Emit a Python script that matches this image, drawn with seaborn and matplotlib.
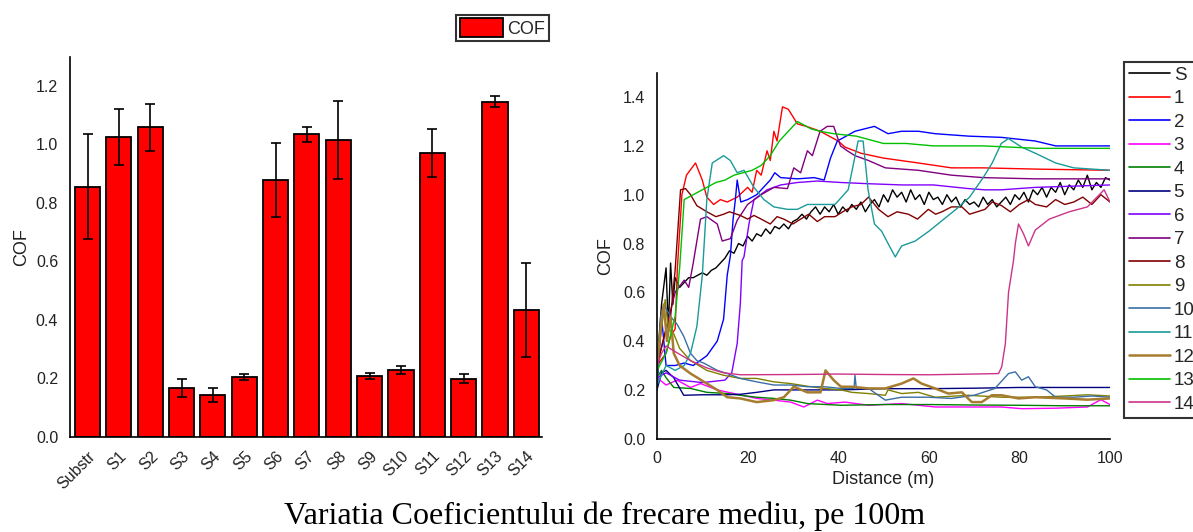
import numpy as np
import pandas as pd
import matplotlib
matplotlib.use("Agg")
import matplotlib.pyplot as plt
from matplotlib.lines import Line2D
from matplotlib.patches import Patch
from matplotlib.ticker import MultipleLocator
import seaborn as sns

# ---------------- data: bar chart ----------------
samples = ["Substr", "S1", "S2", "S3", "S4", "S5", "S6", "S7", "S8", "S9",
           "S10", "S11", "S12", "S13", "S14"]
cof_mean = [0.855, 1.025, 1.059, 0.167, 0.143, 0.205, 0.879, 1.034, 1.014,
            0.209, 0.228, 0.971, 0.199, 1.146, 0.433]
cof_err = [0.180, 0.096, 0.080, 0.030, 0.025, 0.010, 0.126, 0.026, 0.133,
           0.010, 0.015, 0.082, 0.015, 0.018, 0.162]

# ---------------- data: COF vs distance curves ----------------
dist_S = [0, 1, 2, 2.5, 3, 3.5, 4, 5, 6, 7, 8, 9, 10, 11, 12, 13, 14, 15, 16, 17, 18, 19, 20, 21, 22, 23, 24, 25, 26, 27, 28, 29, 30, 31, 32, 33, 34, 35, 36, 37, 38, 39, 40, 41, 42, 43, 44, 45, 46, 47, 48, 49, 50, 51, 52, 53, 54, 55, 56, 57, 58, 59, 60, 61, 62, 63, 64, 65, 66, 67, 68, 69, 70, 71, 72, 73, 74, 75, 76, 77, 78, 79, 80, 81, 82, 83, 84, 85, 86, 87, 88, 89, 90, 91, 92, 93, 94, 95, 96, 97, 98, 99, 100]
cof_S = [0.30, 0.55, 0.70, 0.45, 0.72, 0.55, 0.66, 0.62, 0.64, 0.66, 0.66, 0.67, 0.68, 0.67, 0.69, 0.70, 0.72, 0.74, 0.77, 0.76, 0.80, 0.79, 0.83, 0.81, 0.84, 0.83, 0.86, 0.84, 0.87, 0.86, 0.88, 0.86, 0.89, 0.90, 0.92, 0.90, 0.93, 0.95, 0.92, 0.95, 0.93, 0.96, 0.92, 0.95, 0.93, 0.96, 0.94, 0.97, 0.93, 0.96, 0.98, 0.95, 1.00, 0.97, 1.02, 0.99, 1.01, 0.97, 1.02, 0.98, 1.00, 0.96, 1.01, 0.98, 0.99, 0.96, 1.00, 0.97, 0.99, 0.95, 0.98, 0.96, 0.97, 0.95, 0.99, 0.96, 0.98, 0.95, 0.97, 0.99, 0.96, 1.00, 0.98, 1.01, 0.97, 1.02, 1.00, 1.03, 0.99, 1.03, 1.01, 1.05, 1.00, 1.04, 1.02, 1.06, 1.03, 1.08, 1.02, 1.05, 1.03, 1.07, 1.06]

dist_1 = [0, 2, 3, 4, 4.5, 5.5, 6.5, 8.5, 10, 11, 12.5, 14, 15.5, 17.7, 20, 21, 22, 23, 24.3, 25, 25.8, 26.5, 27.7, 29, 31, 33, 36, 40, 41.5, 45, 50, 57.7, 65, 72, 83.5, 100]
cof_1 = [0.30, 0.35, 0.42, 0.45, 0.70, 1.00, 1.08, 1.13, 1.06, 0.99, 0.96, 0.98, 0.97, 0.99, 1.03, 1.01, 1.10, 1.08, 1.18, 1.14, 1.26, 1.22, 1.36, 1.35, 1.29, 1.28, 1.26, 1.22, 1.195, 1.17, 1.15, 1.13, 1.11, 1.11, 1.105, 1.10]

dist_2 = [0, 1, 2, 4, 6, 8, 11, 13.3, 14.7, 15.5, 16.2, 16.8, 17.3, 17.7, 18.5, 20, 22, 25, 26, 27.3, 31, 34.7, 36.9, 38.3, 39.8, 43.7, 48, 51, 54, 57.7, 61.4, 68.8, 76, 83.5, 88, 100]
cof_2 = [0.20, 0.50, 0.30, 0.30, 0.31, 0.30, 0.34, 0.40, 0.49, 0.67, 0.75, 0.90, 0.98, 1.06, 0.97, 0.98, 1.00, 1.06, 1.09, 1.07, 1.065, 1.07, 1.06, 1.15, 1.22, 1.26, 1.28, 1.25, 1.26, 1.26, 1.25, 1.24, 1.235, 1.22, 1.20, 1.20]

dist_3 = [0, 2, 4.4, 7.4, 9.6, 13.3, 17, 22, 25.8, 29.5, 32.4, 35.4, 37.6, 41.5, 46.7, 54, 61.4, 68.8, 76, 80.5, 88, 95, 98, 100]
cof_3 = [0.25, 0.22, 0.24, 0.21, 0.226, 0.20, 0.185, 0.165, 0.158, 0.15, 0.13, 0.158, 0.144, 0.15, 0.137, 0.144, 0.13, 0.13, 0.13, 0.123, 0.125, 0.13, 0.16, 0.14]

dist_4 = [0, 1, 2, 3.7, 7.4, 11, 15.5, 18.4, 22, 25.8, 29.5, 33.2, 40.6, 50, 60, 70, 80, 90, 100]
cof_4 = [0.25, 0.28, 0.25, 0.21, 0.206, 0.19, 0.185, 0.178, 0.17, 0.165, 0.158, 0.144, 0.137, 0.14, 0.14, 0.138, 0.137, 0.135, 0.135]

dist_5 = [0, 1, 2, 3.7, 5.9, 10, 15, 18.4, 22, 25.8, 33, 40.6, 50, 60, 70, 80, 90, 100]
cof_5 = [0.20, 0.27, 0.28, 0.25, 0.178, 0.18, 0.18, 0.182, 0.19, 0.20, 0.20, 0.20, 0.205, 0.205, 0.207, 0.21, 0.21, 0.21]

dist_6 = [0, 2, 5, 10, 15, 16.5, 17.7, 18.4, 18.8, 19.2, 20.3, 21.4, 24.3, 27.3, 31, 35.4, 40.6, 46.7, 54, 61, 68.8, 72.4, 76, 83.5, 100]
cof_6 = [0.25, 0.27, 0.24, 0.23, 0.24, 0.27, 0.39, 0.555, 0.73, 0.745, 0.88, 0.98, 1.02, 1.04, 1.05, 1.056, 1.05, 1.045, 1.04, 1.04, 1.025, 1.02, 1.02, 1.03, 1.04]

dist_7 = [0, 2, 4, 6, 7, 8, 9.6, 11, 13.3, 14.4, 16.2, 17.7, 20, 23, 25.8, 28.8, 30.2, 31.7, 33.2, 34.3, 36, 37.6, 39, 40.5, 42, 43.7, 46.7, 50.4, 57.7, 65, 72, 83.5, 100]
cof_7 = [0.30, 0.45, 0.60, 0.65, 0.62, 0.72, 0.90, 0.91, 0.88, 0.81, 0.82, 0.895, 0.96, 1.00, 1.03, 1.025, 1.11, 1.09, 1.18, 1.16, 1.26, 1.28, 1.28, 1.20, 1.18, 1.16, 1.14, 1.11, 1.10, 1.08, 1.07, 1.065, 1.065]

dist_8 = [0, 2, 3, 4, 5.2, 6.3, 7.4, 8.8, 11, 13, 14.7, 16, 18.4, 20, 21.4, 23, 25, 26.5, 28, 30, 31.7, 33.5, 35.4, 37, 39.3, 41, 43, 45, 46.7, 48.9, 51, 53, 55.5, 57.5, 59.9, 61.5, 62.9, 65, 67.3, 69, 72.4, 74, 76, 78, 80, 82, 83.5, 86, 88, 90, 92, 94, 96, 98, 100]
cof_8 = [0.30, 0.45, 0.50, 0.69, 1.02, 1.025, 1.00, 0.955, 0.93, 0.91, 0.92, 0.93, 0.915, 0.90, 0.915, 0.90, 0.88, 0.91, 0.90, 0.88, 0.90, 0.92, 0.89, 0.91, 0.91, 0.93, 0.95, 0.96, 0.99, 0.94, 0.91, 0.93, 0.92, 0.90, 0.94, 0.92, 0.93, 0.95, 0.95, 0.92, 0.94, 0.97, 0.956, 0.93, 0.96, 0.98, 0.96, 0.95, 0.98, 0.96, 0.97, 0.99, 0.96, 1.00, 0.97]

dist_9 = [0, 1, 1.8, 2.5, 3.7, 5, 7.4, 11, 14.7, 18.4, 22, 25.8, 29.5, 33.2, 36.9, 40.6, 43, 46.7, 50.4, 51, 54, 57.7, 61.4, 68.8, 76, 83.5, 90, 95, 100]
cof_9 = [0.30, 0.45, 0.57, 0.45, 0.43, 0.37, 0.32, 0.28, 0.26, 0.247, 0.247, 0.233, 0.226, 0.215, 0.206, 0.20, 0.19, 0.185, 0.178, 0.20, 0.185, 0.19, 0.17, 0.178, 0.17, 0.17, 0.175, 0.18, 0.175]

dist_10 = [0, 0.8, 1.5, 3, 4.4, 5.9, 7.4, 8.8, 10.3, 13.3, 15.5, 18.4, 22, 25.8, 29.5, 33.2, 36.9, 40.6, 43.5, 43.7, 44, 46.7, 50.4, 54, 60, 65, 70, 74.6, 77.6, 79.1, 80.5, 82, 83.5, 86, 88, 92, 96, 100]
cof_10 = [0.20, 0.50, 0.55, 0.50, 0.47, 0.42, 0.35, 0.32, 0.31, 0.28, 0.267, 0.247, 0.233, 0.22, 0.22, 0.213, 0.213, 0.206, 0.206, 0.26, 0.206, 0.206, 0.158, 0.17, 0.17, 0.165, 0.178, 0.206, 0.267, 0.274, 0.24, 0.254, 0.213, 0.20, 0.17, 0.17, 0.175, 0.17]

dist_11 = [0, 2, 4, 6, 7.4, 8.8, 10, 11, 12.2, 14.7, 16.2, 17.7, 19.2, 21.4, 23.6, 25.8, 28.8, 31, 33.2, 36, 39.3, 42.2, 44.4, 45.5, 46.6, 48, 49.6, 51, 52.6, 54, 57, 60, 63, 66, 69, 72, 74, 76, 77.6, 80.5, 83.5, 88, 92, 100]
cof_11 = [0.22, 0.30, 0.28, 0.30, 0.35, 0.46, 0.67, 0.98, 1.13, 1.16, 1.14, 1.09, 1.10, 1.03, 0.98, 0.95, 0.94, 0.94, 0.96, 0.96, 0.96, 1.02, 1.22, 1.22, 1.02, 0.88, 0.85, 0.80, 0.745, 0.79, 0.81, 0.85, 0.895, 0.94, 0.99, 1.07, 1.13, 1.21, 1.23, 1.195, 1.17, 1.13, 1.11, 1.10]

dist_12 = [0, 0.8, 1.5, 2.2, 3, 3.7, 5, 7.4, 11, 13.3, 15.5, 18.4, 22, 25.8, 28, 30.2, 33.2, 36.1, 37.2, 39, 40.6, 43, 46.7, 50.4, 54, 56.6, 58.4, 61.4, 64.3, 67.3, 69.5, 71.7, 73.9, 76.1, 79.8, 83.5, 90, 95, 100]
cof_12 = [0.30, 0.45, 0.55, 0.40, 0.50, 0.35, 0.30, 0.267, 0.226, 0.20, 0.17, 0.165, 0.15, 0.158, 0.17, 0.213, 0.19, 0.19, 0.28, 0.24, 0.213, 0.213, 0.206, 0.206, 0.226, 0.247, 0.226, 0.206, 0.185, 0.19, 0.15, 0.15, 0.178, 0.178, 0.165, 0.17, 0.165, 0.16, 0.165]

dist_13 = [0, 2, 4, 5, 6, 7, 9, 11, 13, 15, 17, 19, 21, 23, 25, 27, 29, 31, 32, 34, 36, 39, 44, 50, 55, 61, 72, 84, 100]
cof_13 = [0.28, 0.35, 0.50, 0.70, 0.98, 0.99, 1.01, 1.03, 1.05, 1.06, 1.08, 1.09, 1.10, 1.12, 1.16, 1.22, 1.26, 1.30, 1.29, 1.27, 1.26, 1.25, 1.24, 1.21, 1.21, 1.20, 1.20, 1.19, 1.19]

dist_14 = [0, 1, 2, 3.7, 7.4, 11, 14.7, 18.4, 30, 40, 50, 60, 70, 75.4, 76.1, 76.9, 77.6, 78.7, 79.1, 79.8, 80.9, 82, 83.5, 86.6, 91, 95, 98.7, 100]
cof_14 = [0.30, 0.35, 0.38, 0.36, 0.32, 0.29, 0.27, 0.262, 0.263, 0.265, 0.263, 0.262, 0.265, 0.267, 0.295, 0.39, 0.60, 0.73, 0.80, 0.88, 0.84, 0.79, 0.855, 0.90, 0.93, 0.95, 1.02, 0.97]

series_labels = ["S", "1", "2", "3", "4", "5", "6", "7", "8", "9", "10", "11", "12", "13", "14"]
series_dist = [dist_S, dist_1, dist_2, dist_3, dist_4, dist_5, dist_6, dist_7, dist_8,
               dist_9, dist_10, dist_11, dist_12, dist_13, dist_14]
series_cof = [cof_S, cof_1, cof_2, cof_3, cof_4, cof_5, cof_6, cof_7, cof_8,
              cof_9, cof_10, cof_11, cof_12, cof_13, cof_14]
series_colors = ["#000000", "#FF0000", "#0000FF", "#FF00FF", "#008000", "#000080",
                 "#8000FF", "#800080", "#800000", "#808000", "#3A6EA5", "#1A9A9A",
                 "#A67C2E", "#00C000", "#CC3388"]

# ---------------- figure ----------------
sns.set_theme(style="white")
plt.rcParams["font.family"] = ["Liberation Sans", "DejaVu Sans"]

W, H = 1193, 532
fig = plt.figure(figsize=(W / 100, H / 100), dpi=100)
fig.patch.set_facecolor("white")

def axrect(x0, x1, ytop, ybot):
    return [x0 / W, 1 - ybot / H, (x1 - x0) / W, (ybot - ytop) / H]

tick_kw = dict(direction="out", length=5, width=1, color="black",
               labelsize=11.5, labelcolor="#222222")

# ---- left: bar chart ----
ax1 = fig.add_axes(axrect(70, 542, 56.7, 436.7))
df_bar = pd.DataFrame({"sample": samples, "cof": cof_mean})
sns.barplot(data=df_bar, x="sample", y="cof", color="#FF0000", saturation=1,
            edgecolor="black", linewidth=1.3, width=0.8, errorbar=None, ax=ax1)
for p in ax1.patches:
    p.set_facecolor("#FF0000")
ax1.errorbar(x=np.arange(len(samples)), y=cof_mean, yerr=cof_err, fmt="none",
             ecolor="black", elinewidth=1.2, capsize=3.5, capthick=1.2)
ax1.set_xlim(-0.56, 14.48)
ax1.set_ylim(0, 1.3)
ax1.yaxis.set_major_locator(MultipleLocator(0.2))
ax1.yaxis.set_minor_locator(MultipleLocator(0.1))
ax1.set_xticks(np.arange(-0.5, 14.6, 1.0), minor=True)
ax1.tick_params(axis="both", which="major", **tick_kw)
ax1.tick_params(axis="both", which="minor", direction="out", length=3, width=1, color="black")
ax1.set_yticklabels([f"{v:.1f}" for v in ax1.get_yticks()])
for lbl in ax1.get_xticklabels():
    lbl.set_rotation(45)
    lbl.set_ha("right")
    lbl.set_va("top")
    lbl.set_rotation_mode("anchor")
    lbl.set_fontsize(11.5)
ax1.set_xlabel("")
ax1.set_ylabel("COF", fontsize=13, color="#222222", labelpad=4)
for s in ["top", "right"]:
    ax1.spines[s].set_visible(False)
for s in ["left", "bottom"]:
    ax1.spines[s].set_color("black")
    ax1.spines[s].set_linewidth(1.2)
ax1.set_facecolor("white")

fig.legend(handles=[Patch(facecolor="#FF0000", edgecolor="black", linewidth=1.3)],
           labels=["COF"], loc="upper left", bbox_to_anchor=(456 / W, 1 - 14.7 / H),
           fontsize=13, frameon=True, fancybox=False, edgecolor="black",
           handlelength=2.4, handleheight=1.2, handletextpad=0.25, borderpad=0.2,
           borderaxespad=0).get_frame().set_linewidth(1.5)

# ---- right: COF vs distance ----
ax2 = fig.add_axes(axrect(657, 1110, 72.7, 438.7))
rows = []
for lab, d, c in zip(series_labels, series_dist, series_cof):
    for dd, cc in zip(d, c):
        rows.append((lab, dd, cc))
df_lines = pd.DataFrame(rows, columns=["series", "distance", "cof"])
palette = dict(zip(series_labels, series_colors))
widths = {lab: (1.8 if lab == "12" else 1.0) for lab in series_labels}
for lab in series_labels:
    sub = df_lines[df_lines["series"] == lab]
    sns.lineplot(data=sub, x="distance", y="cof", color=palette[lab],
                 linewidth=widths[lab], estimator=None, sort=False, ax=ax2,
                 legend=False)
ax2.set_xlim(0, 100)
ax2.set_ylim(0, 1.5)
ax2.xaxis.set_major_locator(MultipleLocator(20))
ax2.xaxis.set_minor_locator(MultipleLocator(10))
ax2.yaxis.set_major_locator(MultipleLocator(0.2))
ax2.yaxis.set_minor_locator(MultipleLocator(0.1))
ax2.tick_params(axis="both", which="major", **tick_kw)
ax2.tick_params(axis="both", which="minor", direction="out", length=3, width=1, color="black")
ax2.set_yticklabels([f"{v:.1f}" for v in ax2.get_yticks()])
ax2.set_xticklabels([f"{int(v)}" for v in ax2.get_xticks()])
ax2.set_xlabel("Distance (m)", fontsize=13, color="#222222", labelpad=4)
ax2.set_ylabel("COF", fontsize=13, color="#222222", labelpad=6)
for s in ["top", "right"]:
    ax2.spines[s].set_visible(False)
for s in ["left", "bottom"]:
    ax2.spines[s].set_color("black")
    ax2.spines[s].set_linewidth(1.2)
ax2.set_facecolor("white")

handles = [Line2D([0], [0], color=c, linewidth=(1.8 if l == "12" else 1.2))
           for l, c in zip(series_labels, series_colors)]
leg2 = fig.legend(handles=handles, labels=series_labels, loc="upper left",
                  bbox_to_anchor=(1124 / W, 1 - 62 / H), fontsize=13.5,
                  frameon=True, fancybox=False, edgecolor="black",
                  handlelength=2.2, handletextpad=0.2, labelspacing=0.34,
                  borderpad=0.25, borderaxespad=0)
leg2.get_frame().set_linewidth(1.5)

fig.text(605 / W, 1 - 516 / H, "Variatia Coeficientului de frecare mediu, pe 100m",
         ha="center", va="center", fontsize=23, family="Liberation Serif",
         color="black")

fig.savefig("out.png", dpi=100, facecolor="white")
